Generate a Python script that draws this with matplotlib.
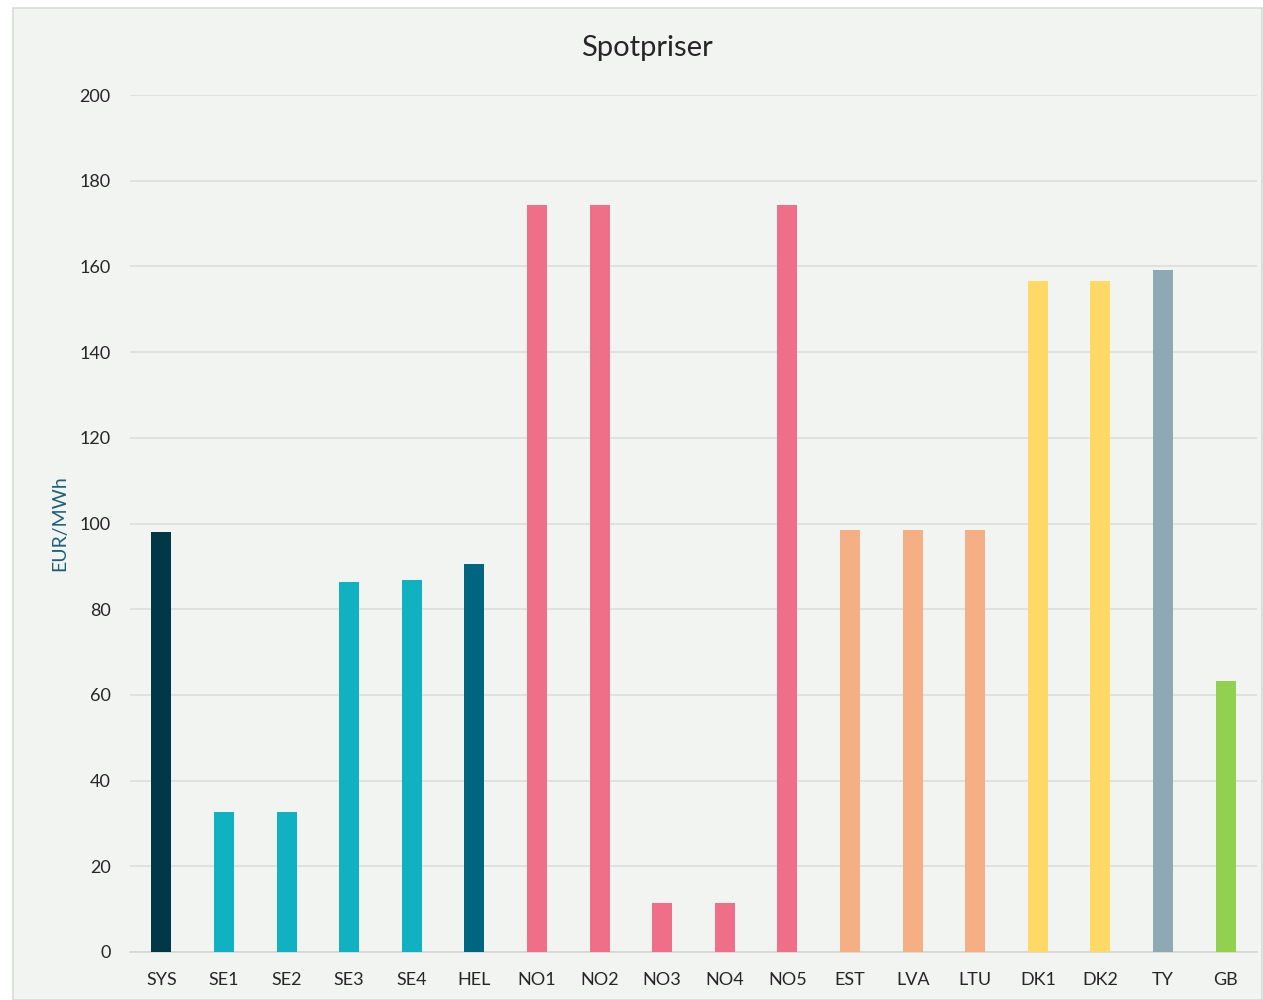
import matplotlib
matplotlib.use("Agg")
import matplotlib.pyplot as plt
from matplotlib.patches import Rectangle

categories = ["SYS", "SE1", "SE2", "SE3", "SE4", "HEL", "NO1", "NO2", "NO3", "NO4",
              "NO5", "EST", "LVA", "LTU", "DK1", "DK2", "TY", "GB"]
values = [98.0, 32.7, 32.7, 86.3, 86.8, 90.5, 174.3, 174.3, 11.4, 11.4,
          174.3, 98.5, 98.5, 98.5, 156.6, 156.6, 159.2, 63.2]
colors = ["#003845", "#10b1c0", "#10b1c0", "#10b1c0", "#10b1c0", "#006581",
          "#ef6f88", "#ef6f88", "#ef6f88", "#ef6f88", "#ef6f88",
          "#f4b084", "#f4b084", "#f4b084", "#ffd966", "#ffd966", "#8fa9b4", "#92d050"]
yticks = [0, 20, 40, 60, 80, 100, 120, 140, 160, 180, 200]

plt.rcParams['font.family'] = ['Lato', 'DejaVu Sans']

W, H = 1263, 1000
fig = plt.figure(figsize=(W / 100, H / 100), dpi=100)
fig.patch.set_facecolor("white")
bg = Rectangle((13 / W, 0), (1262 - 13) / W, (1000 - 8) / H, transform=fig.transFigure,
               facecolor="#f2f4f2", edgecolor="#d9d9d9", linewidth=1.2, zorder=-10)
fig.patches.append(bg)

ax = fig.add_axes([130 / W, 48 / H, (1257 - 130) / W, (952 - 95) / H])
ax.set_zorder(5)
ax.set_facecolor("none")
x = list(range(len(categories)))
ax.bar(x, values, width=0.32, color=colors, zorder=3)
ax.set_xlim(-0.5, len(categories) - 0.5)
ax.set_ylim(0, 200)
ax.set_yticks(yticks)
ax.set_xticks(x)
ax.set_xticklabels(categories)
ax.grid(axis="y", color="#dcdedc", linewidth=1.2, zorder=0)
ax.set_axisbelow(True)
for s in ["top", "right", "left"]:
    ax.spines[s].set_visible(False)
ax.spines["bottom"].set_color("#d5d7d5")
ax.spines["bottom"].set_linewidth(1.2)
ax.tick_params(axis="both", length=0, labelsize=13, colors="#262626")
ax.tick_params(axis="y", pad=14)
ax.tick_params(axis="x", pad=14.5)
ax.set_ylabel("EUR/MWh", fontsize=14, color="#1f5f78", labelpad=8)

fig.text(647 / W, 1 - 48 / H, "Spotpriser", ha="center", va="center", fontsize=21, color="#262626")

fig.savefig("out.png", dpi=100, facecolor=fig.get_facecolor())
